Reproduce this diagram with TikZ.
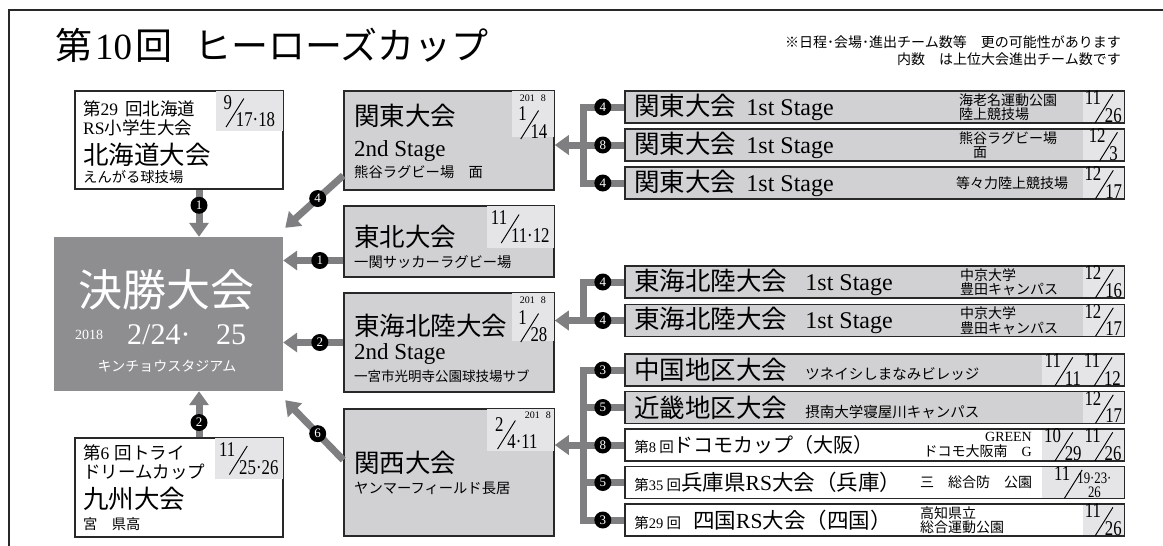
\documentclass[tikz,border=0pt]{standalone}
\usepackage{fontspec}
\usepackage{graphicx}
\setmainfont{Liberation Serif}
\newfontfamily\jpfont{Noto Sans CJK JP}
\newfontfamily\datefont[FakeStretch=0.8]{Liberation Serif}
\usetikzlibrary{arrows.meta,calc,positioning}

\definecolor{boxgray}{RGB}{209,209,211}
\definecolor{dategray}{RGB}{229,229,231}
\definecolor{finalgray}{RGB}{142,142,145}
\definecolor{linegray}{RGB}{127,127,129}
\definecolor{edgegray}{RGB}{40,40,40}

\newcommand\fsz[1]{\fontsize{#1}{#1}\selectfont}
\newcommand\lat[1]{{\rmfamily #1}}
\newcommand\dslash{\raisebox{-0.45em}{\rotatebox{58}{\rule{1.6em}{0.045em}}}}
\newcommand\mdate[2]{\raisebox{0.42em}{#1}\kern-0.3em\dslash\kern-0.4em\raisebox{-0.42em}{#2}}

\begin{document}
\begin{tikzpicture}[
        x=1pt, y=-1pt,
        box/.style={draw=edgegray, line width=1.5pt, fill=white, inner sep=0pt},
        graybox/.style={box, fill=boxgray},
        rowbox/.style={minimum width=499pt, minimum height=32pt},
        datecell/.style={fill=dategray, inner sep=0pt},
        datetext/.style={font=\datefont\fsz{21}, inner sep=0pt},
        yeartext/.style={font=\rmfamily\fsz{10}, inner sep=0pt},
        bigtext/.style={font=\jpfont\fsz{25.5}, anchor=west, inner sep=0pt},
        midtext/.style={font=\jpfont\fsz{17.5}, anchor=west, inner sep=0pt},
        smalltext/.style={font=\jpfont\fsz{14.3}, anchor=west, inner sep=0pt},
        venue/.style={font=\jpfont\fontsize{14}{14.5}\selectfont, anchor=west, inner sep=0pt, align=left},
        stagetext/.style={font=\rmfamily\fsz{23}, anchor=west, inner sep=0pt},
        whitetext/.style={text=white, inner sep=0pt},
        badge/.style={circle, fill=black, text=white, inner sep=0pt, minimum size=17pt, font=\rmfamily\fsz{13}},
        conn/.style={draw=linegray, line width=7pt},
        arr/.style={conn, -{Triangle[width=19pt, length=14pt]}}
    ]
        % Page and frame
        \fill[white] (0,0) rectangle (1163,546);
        \useasboundingbox (0,0) rectangle (1163,546);
        \draw[draw=edgegray, line width=2pt] (9,546) -- (9,9.5) -- (1163,9.5);

        % Title and note
        \node[font=\jpfont\fsz{37}, anchor=west, inner sep=0pt] (title) at (55,45) {第\kern3pt\lat{10}\kern3pt回\hspace{0.6em}ヒーローズカップ};
        \node[font=\jpfont\fontsize{14}{17}\selectfont, anchor=east, align=right, inner sep=0pt] (note) at (1121,50.5)
            {※日程･会場･進出チーム数等　更の可能性があります\\内数　は上位大会進出チーム数です};

        % Final
        \node[fill=finalgray, minimum width=229pt, minimum height=154pt, inner sep=0pt] (fin) at (168.5,314) {};
        \node[whitetext, font=\jpfont\fsz{44}] (finA) at (166,290) {決勝大会};
        \node[whitetext, font=\rmfamily\fsz{14}, anchor=west] (finY) at (75,335) {2018};
        \node[whitetext, font=\rmfamily\fsz{30}, anchor=west] (finB) at (127,335) {2/24·\hspace{0.85em}25};
        \node[whitetext, font=\jpfont\fsz{14}] (finC) at (167,366) {キンチョウスタジアム};

        % Hokkaido
        \node[box, minimum width=208pt, minimum height=98pt] (hok) at (179,140) {};
        \node[datecell, anchor=north east, minimum width=67pt, minimum height=40pt] (hokd) at ($(hok.north east)+(-0.75,0.75)$) {};
        \node[datetext] (hokdt) at (hokd) {\mdate{9}{17·18}};
        \node[midtext] (hokA) at (83,109) {第\lat{29}\hspace{0.4em}回北海道};
        \node[midtext] (hokB) at (83,128) {\lat{RS}小学生大会};
        \node[bigtext] (hokC) at (83,155) {北海道大会};
        \node[smalltext] (hokD) at (83,177) {えんがる球技場};

        % Kyushu
        \node[box, minimum width=208pt, minimum height=99pt] (kyu) at (179,487.5) {};
        \node[datecell, anchor=north east, minimum width=68pt, minimum height=41pt] (kyud) at ($(kyu.north east)+(-0.75,0.75)$) {};
        \node[datetext] (kyudt) at (kyud) {\mdate{11}{25·26}};
        \node[midtext] (kyuA) at (83,453) {第\lat{6}\hspace{0.3em}回トライ};
        \node[midtext] (kyuB) at (83,472) {ドリームカップ};
        \node[bigtext] (kyuC) at (83,499) {九州大会};
        \node[smalltext] (kyuD) at (83,524) {宮　県高};

        % Kanto 2nd Stage
        \node[graybox, minimum width=210pt, minimum height=99pt] (kt2) at (449,140.5) {};
        \node[datecell, anchor=north east, minimum width=42pt, minimum height=46pt] (kt2d) at ($(kt2.north east)+(-0.75,0.75)$) {};
        \node[yeartext] (kt2y) at ($(kt2d.north)+(0,7)$) {201\hspace{0.6em}8};
        \node[datetext] (kt2dt) at ($(kt2d.center)+(0,9)$) {\mdate{1}{14}};
        \node[bigtext] (kt2A) at (354,116) {関東大会};
        \node[stagetext] (kt2B) at (354,151) {2nd Stage};
        \node[smalltext] (kt2C) at (354,172) {熊谷ラグビー場　面};

        % Tohoku
        \node[graybox, minimum width=210pt, minimum height=71pt] (toh) at (449,241.5) {};
        \node[datecell, anchor=north east, minimum width=67pt, minimum height=42pt] (tohd) at ($(toh.north east)+(-0.75,0.75)$) {};
        \node[datetext] (tohdt) at (tohd) {\mdate{11}{11·12}};
        \node[bigtext] (tohA) at (354,237) {東北大会};
        \node[smalltext] (tohB) at (354,262) {一関サッカーラグビー場};

        % Tokai-Hokuriku 2nd Stage
        \node[graybox, minimum width=210pt, minimum height=99pt] (tk2) at (449,342.5) {};
        \node[datecell, anchor=north east, minimum width=42pt, minimum height=48pt] (tk2d) at ($(tk2.north east)+(-0.75,0.75)$) {};
        \node[yeartext] (tk2y) at ($(tk2d.north)+(0,7)$) {201\hspace{0.6em}8};
        \node[datetext] (tk2dt) at ($(tk2d.center)+(0,9)$) {\mdate{1}{28}};
        \node[bigtext] (tk2A) at (354,326) {東海北陸大会};
        \node[stagetext] (tk2B) at (354,354) {2nd Stage};
        \node[smalltext, font=\jpfont\fsz{13.5}] (tk2C) at (354,376) {一宮市光明寺公園球技場サブ};

        % Kansai
        \node[graybox, minimum width=210pt, minimum height=127pt] (ks) at (449,472.5) {};
        \node[datecell, anchor=north east, minimum width=67pt, minimum height=42pt] (ksd) at ($(ks.north east)+(-0.75,0.75)$) {};
        \node[datetext] (ksdt) at ($(ksd.center)+(-4,3)$) {\mdate{2}{4·11}};
        \node[yeartext, anchor=north east] (ksy) at ($(ksd.north east)+(-3,3)$) {201\hspace{0.6em}8};
        \node[bigtext] (ksA) at (354,463) {関西大会};
        \node[smalltext] (ksB) at (354,488) {ヤンマーフィールド長居};

        % Kanto 1st Stage rows
        \node[graybox, rowbox] (kr1) at (874.5,107) {};
        \node[graybox, rowbox] (kr2) at (874.5,145) {};
        \node[graybox, rowbox] (kr3) at (874.5,183) {};
        \node[datecell, anchor=east, minimum width=41pt, minimum height=30.5pt] (kr1d) at ($(kr1.east)+(-0.75,0)$) {};
        \node[datecell, anchor=east, minimum width=41pt, minimum height=30.5pt] (kr2d) at ($(kr2.east)+(-0.75,0)$) {};
        \node[datecell, anchor=east, minimum width=41pt, minimum height=30.5pt] (kr3d) at ($(kr3.east)+(-0.75,0)$) {};
        \node[datetext] (kr1dt) at (kr1d) {\mdate{11}{26}};
        \node[datetext] (kr2dt) at (kr2d) {\mdate{12}{3}};
        \node[datetext] (kr3dt) at (kr3d) {\mdate{12}{17}};
        \node[bigtext] (kr1t) at ($(kr1.west)+(10,0)$) {関東大会\hspace{10pt}\lat{\fsz{24}1st Stage}};
        \node[bigtext] (kr2t) at ($(kr2.west)+(10,0)$) {関東大会\hspace{10pt}\lat{\fsz{24}1st Stage}};
        \node[bigtext] (kr3t) at ($(kr3.west)+(10,0)$) {関東大会\hspace{10pt}\lat{\fsz{24}1st Stage}};
        \node[venue] (kr1v) at (959,107) {海老名運動公園\\陸上競技場};
        \node[venue] (kr2v) at (959,145) {熊谷ラグビー場\\　面};
        \node[venue] (kr3v) at (956,183) {等々力陸上競技場};

        % Tokai-Hokuriku 1st Stage rows
        \node[graybox, rowbox] (tr1) at (874.5,282) {};
        \node[graybox, rowbox] (tr2) at (874.5,320.5) {};
        \node[datecell, anchor=east, minimum width=41pt, minimum height=30.5pt] (tr1d) at ($(tr1.east)+(-0.75,0)$) {};
        \node[datecell, anchor=east, minimum width=41pt, minimum height=30.5pt] (tr2d) at ($(tr2.east)+(-0.75,0)$) {};
        \node[datetext] (tr1dt) at (tr1d) {\mdate{12}{16}};
        \node[datetext] (tr2dt) at (tr2d) {\mdate{12}{17}};
        \node[bigtext] (tr1t) at ($(tr1.west)+(10,0)$) {東海北陸大会\hspace{18pt}\lat{\fsz{24}1st Stage}};
        \node[bigtext] (tr2t) at ($(tr2.west)+(10,0)$) {東海北陸大会\hspace{18pt}\lat{\fsz{24}1st Stage}};
        \node[venue] (tr1v) at (960,282) {中京大学\\豊田キャンパス};
        \node[venue] (tr2v) at (960,320.5) {中京大学\\豊田キャンパス};

        % Western rows
        \node[graybox, rowbox] (cr) at (874.5,370) {};
        \node[graybox, rowbox] (kin) at (874.5,407.5) {};
        \node[box, rowbox] (doc) at (874.5,445) {};
        \node[box, rowbox] (hyo) at (874.5,482.5) {};
        \node[box, rowbox] (shi) at (874.5,520) {};
        \node[datecell, anchor=east, minimum width=82pt, minimum height=30.5pt] (crd) at ($(cr.east)+(-0.75,0)$) {};
        \node[datecell, anchor=east, minimum width=41pt, minimum height=30.5pt] (kind) at ($(kin.east)+(-0.75,0)$) {};
        \node[datecell, anchor=east, minimum width=82pt, minimum height=30.5pt] (docd) at ($(doc.east)+(-0.75,0)$) {};
        \node[datecell, anchor=east, minimum width=82pt, minimum height=30.5pt] (hyod) at ($(hyo.east)+(-0.75,0)$) {};
        \node[datecell, anchor=east, minimum width=41pt, minimum height=30.5pt] (shid) at ($(shi.east)+(-0.75,0)$) {};
        \node[datetext] (crdt) at (crd) {\mdate{11}{11}\hspace{3pt}\mdate{11}{12}};
        \node[datetext] (kindt) at (kind) {\mdate{12}{17}};
        \node[datetext] (docdt) at (docd) {\mdate{10}{29}\hspace{3pt}\mdate{11}{26}};
        \node[datetext] (hyodt) at (hyod) {\raisebox{0.42em}{11}\kern-0.3em\dslash\kern-0.25em\raisebox{-0.38em}{\fsz{16}\shortstack{19·23·\\26}}};
        \node[datetext] (shidt) at (shid) {\mdate{11}{26}};
        \node[bigtext] (crt) at ($(cr.west)+(10,0)$) {中国地区大会\hspace{18pt}{\fsz{14.5}ツネイシしまなみビレッジ}};
        \node[bigtext] (kint) at ($(kin.west)+(10,0)$) {近畿地区大会\hspace{18pt}{\fsz{14.5}摂南大学寝屋川キャンパス}};
        \node[bigtext, font=\jpfont\fsz{20}] (doct) at ($(doc.west)+(10,0)$) {{\fsz{14.5}第\lat{8} 回}ドコモカップ（大阪）};
        \node[bigtext, font=\jpfont\fsz{21.5}] (hyot) at ($(hyo.west)+(10,0)$) {{\fsz{14.5}第\lat{35} 回}兵庫県\lat{RS}大会（兵庫）};
        \node[bigtext, font=\jpfont\fsz{21.5}] (shit) at ($(shi.west)+(10,0)$) {{\fsz{14.5}第\lat{29} 回}\hspace{12pt}四国\lat{RS}大会（四国）};
        \node[venue, anchor=east, align=right] (docv) at (1032,445) {\lat{GREEN}\hspace{1.3em}\\ドコモ大阪南　\lat{G}};
        \node[venue] (hyov) at (920,482.5) {三　総合防　公園};
        \node[venue] (shiv) at (920,520) {高知県立\\総合運動公園};

        % Junctions
        \coordinate (kj) at (583,145);
        \coordinate (tj) at (583,320.5);
        \coordinate (lj) at (583,445);
        \coordinate (axl) at (199,0);
        \coordinate (kt2out) at ($(kt2.west)+(0,35)$);
        \coordinate (tohout) at ($(toh.west)+(0,19)$);
        \coordinate (ksout) at ($(ks.west)+(0,-12.5)$);
        \coordinate (finNE) at ($(fin.north east)+(2,-9)$);
        \coordinate (finSE) at ($(fin.south east)+(2,9)$);

        % Edges, right side
        \draw[conn] (kr1.west) -| node[badge, pos=0.26] (bk1) {4} (kj);
        \draw[conn] (kr3.west) -| node[badge, pos=0.26] (bk3) {4} (kj);
        \draw[conn] (kr2.west) -- node[badge, pos=0.52] (bk2) {8} (kj);
        \draw[arr] (kj) -- (kj -| kt2.east);

        \draw[conn] (tr1.west) -| node[badge, pos=0.26] (bt1) {4} (tj);
        \draw[conn] (tr2.west) -- node[badge, pos=0.52] (bt2) {4} (tj);
        \draw[arr] (tj) -- (tj -| tk2.east);

        \draw[conn] (cr.west) -| node[badge, pos=0.26] (bc) {3} (lj);
        \draw[conn] (kin.west) -| node[badge, pos=0.26] (bkn) {5} (lj);
        \draw[conn] (hyo.west) -| node[badge, pos=0.26] (bhy) {5} (lj);
        \draw[conn] (shi.west) -| node[badge, pos=0.26] (bsh) {3} (lj);
        \draw[conn] (doc.west) -- node[badge, pos=0.52] (bdc) {8} (lj);
        \draw[arr] (lj) -- (lj -| ks.east);

        % Edges, into the final
        \draw[arr] (hok.south -| axl) -- node[badge, pos=0.33] (bh) {1} (fin.north -| axl);
        \draw[arr] (kyu.north -| axl) -- node[badge, pos=0.32] (bq) {2} (fin.south -| axl);
        \draw[arr] (kt2out) -- node[badge, pos=0.44] (bkt) {4} (finNE);
        \draw[arr] (tohout) -- node[badge, pos=0.39] (bto) {1} (tohout -| fin.east);
        \draw[arr] (tk2.west) -- node[badge, pos=0.39] (btk) {2} (tk2.west -| fin.east);
        \draw[arr] (ksout) -- node[badge, pos=0.44] (bks) {6} (finSE);
    \end{tikzpicture}
\end{document}
